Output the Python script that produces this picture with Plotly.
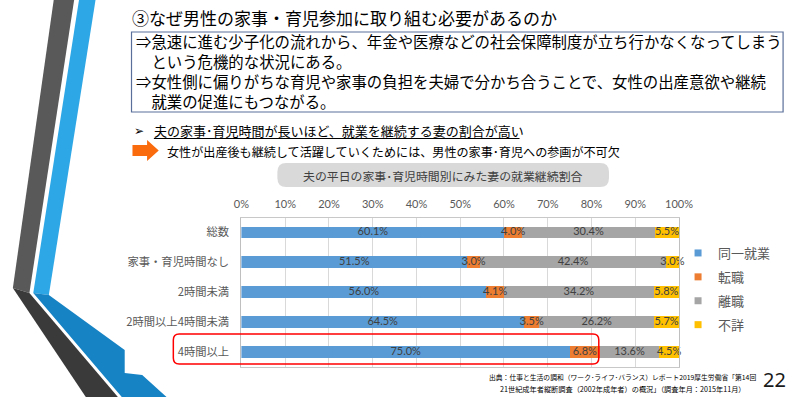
import plotly.graph_objects as go

# ---------------- data ----------------
categories = ["総数", "家事・育児時間なし", "2時間未満", "2時間以上4時間未満", "4時間以上"]
series_names = ["同一就業", "転職", "離職", "不詳"]
same_job = [60.1, 51.5, 56.0, 64.5, 75.0]
job_change = [4.0, 3.0, 4.1, 3.5, 6.8]
left_job = [30.4, 42.4, 34.2, 26.2, 13.6]
unknown = [5.5, 3.0, 5.8, 5.7, 4.5]
series_values = [same_job, job_change, left_job, unknown]
series_colors = ["#5b9bd5", "#ed7d31", "#a5a5a5", "#ffc000"]
x_ticks = [0, 10, 20, 30, 40, 50, 60, 70, 80, 90, 100]

W, H = 800, 397
JP = "Noto Sans CJK JP"


def px(x):
    return x / W


def py(y):
    return 1 - y / H


def path(points, close=True):
    s = "M" + " L".join(f"{px(x):.5f},{py(y):.5f}" for x, y in points)
    return s + (" Z" if close else "")


def rounded_rect(x0, y0, x1, y1, r):
    p = [
        ("M", x0 + r, y0), ("L", x1 - r, y0), ("Q", x1, y0, x1, y0 + r),
        ("L", x1, y1 - r), ("Q", x1, y1, x1 - r, y1), ("L", x0 + r, y1),
        ("Q", x0, y1, x0, y1 - r), ("L", x0, y0 + r), ("Q", x0, y0, x0 + r, y0),
    ]
    out = []
    for seg in p:
        cmd = seg[0]
        coords = seg[1:]
        pts = []
        for i in range(0, len(coords), 2):
            pts.append(f"{px(coords[i]):.5f},{py(coords[i+1]):.5f}")
        out.append(cmd + " ".join(pts))
    return " ".join(out) + " Z"


fig = go.Figure()

# stacked 100% bars
for name, vals, col in zip(series_names, series_values, series_colors):
    fig.add_trace(go.Bar(
        y=categories, x=vals, orientation="h", name=name,
        marker=dict(color=col, line=dict(width=0)),
        showlegend=False, hoverinfo="skip",
    ))

# data labels (drawn above all bars), centred on each normalised segment
row_totals = [sum(s[i] for s in series_values) for i in range(len(categories))]
cum = [0.0] * len(categories)
for name, vals in zip(series_names, series_values):
    mids = []
    for i, v in enumerate(vals):
        mids.append((cum[i] + v / 2) / row_totals[i] * 100)
        cum[i] += v
    fig.add_trace(go.Scatter(
        x=mids, y=categories, mode="text", text=[f"{v:.1f}%" for v in vals],
        textposition="middle center", cliponaxis=False,
        textfont=dict(family="Lato", size=11, color="#404040"),
        showlegend=False, hoverinfo="skip",
    ))

# legend entries with small square markers
for name, col in zip(series_names, series_colors):
    fig.add_trace(go.Scatter(
        x=[None], y=[None], mode="markers", name=name, legendgroup=name,
        marker=dict(symbol="square", size=7, color=col),
        showlegend=True,
    ))

shapes = []
# decorative bands on the left
shapes.append(dict(type="path", xref="paper", yref="paper", line=dict(width=0),
                   fillcolor="#595959", path=path([(47, 0), (68, 0), (22, 293), (5, 288)])))
shapes.append(dict(type="path", xref="paper", yref="paper", line=dict(width=0),
                   fillcolor="#3a3a3a", path=path([(5, 288), (22, 293), (113, 397), (80, 397)])))
shapes.append(dict(type="path", xref="paper", yref="paper", line=dict(width=0),
                   fillcolor="#2ea7e6", path=path([(73, 0), (90, 0), (42, 295), (26, 293)])))
shapes.append(dict(type="path", xref="paper", yref="paper", line=dict(width=0),
                   fillcolor="#1683c5", path=path([(26, 293), (42, 295), (120, 350), (120, 373),
                                                   (138, 375), (163, 397), (117, 397)])))
# text box
shapes.append(dict(type="rect", xref="paper", yref="paper", x0=px(127), x1=px(797),
                   y0=py(112), y1=py(32), line=dict(color="#5a6f9a", width=1.2),
                   fillcolor="rgba(0,0,0,0)"))
# underline
shapes.append(dict(type="line", xref="paper", yref="paper", x0=px(150), x1=px(526),
                   y0=py(138.5), y1=py(138.5), line=dict(color="#000000", width=1)))
# orange arrow
shapes.append(dict(type="path", xref="paper", yref="paper", line=dict(width=0),
                   fillcolor="#f96b0c",
                   path=path([(128, 145), (143, 145), (143, 140), (155, 150.5),
                              (143, 161), (143, 156), (128, 156)])))
# chart title box
shapes.append(dict(type="path", xref="paper", yref="paper", line=dict(width=0),
                   fillcolor="#d9d9d9", path=rounded_rect(277, 163, 618, 187, 9)))
# red highlight box
shapes.append(dict(type="path", xref="paper", yref="paper",
                   line=dict(color="#ff0000", width=1.5), fillcolor="rgba(0,0,0,0)",
                   path=rounded_rect(170, 334, 607.5, 364, 6)))

annotations = []


def txt(x, y, s, size, color="#000000", family=JP, xanchor="left", align="left"):
    annotations.append(dict(xref="paper", yref="paper", x=px(x), y=py(y), text=s,
                            showarrow=False, xanchor=xanchor, yanchor="middle",
                            align=align,
                            font=dict(family=family, size=size, color=color),
                            borderpad=0))


box_lines = [
    "⇒急速に進む少子化の流れから、年金や医療などの社会保障制度が立ち行かなくなってしまう",
    "\u3000という危機的な状況にある。",
    "⇒女性側に偏りがちな育児や家事の負担を夫婦で分かち合うことで、女性の出産意欲や継続",
    "\u3000就業の促進にもつながる。",
]

txt(126, 18, "③なぜ男性の家事・育児参加に取り組む必要があるのか", 17)
txt(131, 70.8, "<br>".join(box_lines), 15.4)
txt(129, 131, "➢", 12, family="DejaVu Sans")
txt(149, 130.5, "夫の家事･育児時間が長いほど、就業を継続する妻の割合が高い", 13)
txt(162, 151.5, "女性が出産後も継続して活躍していくためには、男性の家事･育児への参画が不可欠", 12.1)
txt(447.5, 175, "夫の平日の家事･育児時間別にみた妻の就業継続割合", 11.9, color="#404040", xanchor="center")
txt(632, 377, "出典：仕事と生活の調和（ワーク･ライフ･バランス）レポート2019厚生労働省「第14回", 6.8, xanchor="center")
txt(632, 388.5, "21世紀成年者縦断調査（2002年成年者）の概況」（調査年月：2015年11月）", 7.2, xanchor="center")
txt(788, 379, "22", 20, family="Noto Sans", color="#1a1a1a", xanchor="center")

fig.update_layout(
    width=W, height=H, autosize=False,
    margin=dict(l=0, r=0, t=0, b=0),
    paper_bgcolor="#ffffff", plot_bgcolor="#ffffff",
    barmode="stack", barnorm="percent", bargap=0.61,
    shapes=shapes, annotations=annotations,
    xaxis=dict(domain=[px(240), px(690)], range=[0, 100], side="top",
               tickvals=x_ticks, ticktext=[f"{t}%" for t in x_ticks],
               showgrid=True, gridcolor="#d9d9d9", gridwidth=1,
               showline=True, linecolor="#c8c8c8", linewidth=1, mirror=True,
               ticks="", zeroline=False, ticklabelstandoff=4,
               tickfont=dict(family="Lato", size=11, color="#595959")),
    yaxis=dict(domain=[py(366.7), py(217.5)], type="category",
               categoryorder="array", categoryarray=categories, autorange="reversed",
               showline=True, linecolor="#bfbfbf", linewidth=1, mirror=True,
               ticks="", showgrid=False, zeroline=False, ticklabelstandoff=9,
               tickfont=dict(family=JP, size=11.3, color="#595959")),
    legend=dict(x=px(689), y=py(238), xanchor="left", yanchor="top",
                bgcolor="rgba(0,0,0,0)", tracegroupgap=4, itemwidth=30,
                font=dict(family=JP, size=13, color="#595959")),
    showlegend=True,
)

fig.write_html("out.html", config={"displayModeBar": False},
               post_script="document.body.style.margin='0';")
